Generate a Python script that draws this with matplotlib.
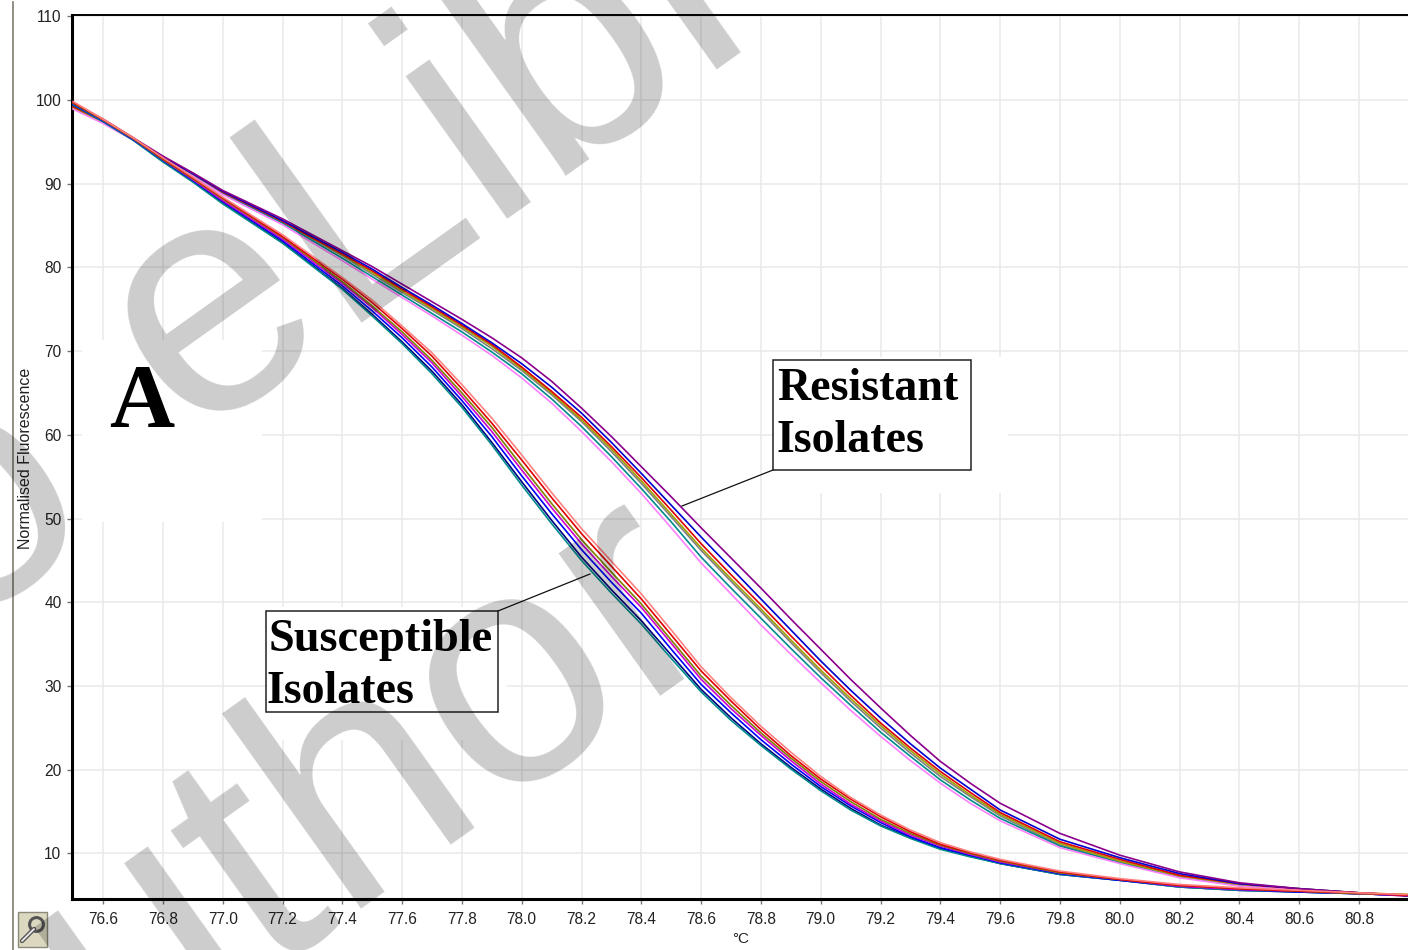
import matplotlib
matplotlib.use('Agg')
import matplotlib.pyplot as plt
from matplotlib.patches import Rectangle
from matplotlib.lines import Line2D

W, H = 1408, 950

temps = [76.5, 76.6, 76.7, 76.8, 76.9, 77.0, 77.2,
         77.4, 77.5, 77.6, 77.7, 77.8, 77.9, 78.0, 78.1, 78.2, 78.3, 78.4, 78.5, 78.6, 78.7, 78.8, 78.9,
         79.0, 79.1, 79.2, 79.3, 79.4, 79.5, 79.6,
         79.8, 80.0, 80.2, 80.4, 80.6, 80.8, 80.96]

# resistant isolates
res_purple = [99.6, 97.7, 95.5, 93.3, 91.3, 89.2, 85.8,
              82.0, 80.1, 78.0, 75.9, 73.8, 71.6, 69.2, 66.4, 63.2, 59.8, 56.2, 52.6, 48.9, 45.3, 41.7, 38.0,
              34.4, 30.8, 27.4, 24.1, 21.0, 18.4, 16.0,
              12.4, 9.8, 7.8, 6.5, 5.8, 5.3, 4.9]
res_blue = [99.4, 97.6, 95.4, 93.2, 91.2, 89.1, 85.6,
            81.8, 79.8, 77.6, 75.5, 73.3, 71.0, 68.5, 65.7, 62.6, 59.1, 55.4, 51.6, 47.8, 44.1, 40.4, 36.7,
            33.0, 29.5, 26.2, 23.1, 20.2, 17.7, 15.2,
            11.7, 9.5, 7.6, 6.4, 5.8, 5.3, 5.0]
res_red = [99.2, 97.5, 95.4, 93.2, 91.2, 89.0, 85.5,
           81.6, 79.6, 77.4, 75.3, 73.1, 70.8, 68.1, 65.2, 62.1, 58.6, 54.9, 51.0, 47.0, 43.3, 39.7, 36.0,
           32.4, 28.9, 25.6, 22.6, 19.8, 17.3, 14.9,
           11.4, 9.3, 7.4, 6.4, 5.7, 5.3, 5.0]
res_olive = [99.0, 97.4, 95.4, 93.2, 91.2, 89.1, 85.5,
             81.5, 79.4, 77.2, 75.1, 72.9, 70.6, 67.9, 65.0, 61.8, 58.3, 54.5, 50.5, 46.5, 42.8, 39.2, 35.5,
             31.9, 28.5, 25.3, 22.3, 19.5, 17.0, 14.7,
             11.2, 9.1, 7.3, 6.3, 5.8, 5.3, 5.1]
res_gray = [99.1, 97.3, 95.3, 93.1, 91.0, 88.9, 85.4,
            81.4, 79.2, 77.0, 74.9, 72.7, 70.3, 67.7, 64.8, 61.6, 58.0, 54.2, 50.2, 46.2, 42.5, 38.9, 35.2,
            31.6, 28.2, 25.0, 22.0, 19.2, 16.8, 14.5,
            11.0, 9.0, 7.2, 6.3, 5.7, 5.2, 5.0]
res_teal = [99.3, 97.4, 95.3, 93.1, 91.0, 88.8, 85.3,
            81.1, 78.9, 76.7, 74.5, 72.3, 69.9, 67.3, 64.3, 61.0, 57.4, 53.6, 49.6, 45.4, 41.7, 38.1, 34.5,
            31.0, 27.7, 24.5, 21.6, 18.8, 16.4, 14.2,
            10.9, 8.9, 7.2, 6.2, 5.6, 5.2, 5.0]
res_pink = [98.9, 97.2, 95.2, 93.0, 90.9, 88.7, 85.1,
            80.8, 78.6, 76.4, 74.2, 71.9, 69.5, 66.8, 63.8, 60.4, 56.8, 53.0, 48.9, 44.7, 41.0, 37.3, 33.8,
            30.4, 27.1, 24.0, 21.1, 18.4, 16.0, 13.9,
            10.7, 8.8, 7.1, 6.1, 5.6, 5.2, 5.0]

# susceptible isolates
sus_salmon = [99.8, 97.7, 95.5, 93.1, 90.8, 88.4, 83.9,
              78.8, 76.1, 73.0, 69.8, 66.0, 62.0, 57.6, 53.1, 48.8, 44.9, 41.0, 36.7, 32.3, 28.6, 25.2, 22.1,
              19.2, 16.7, 14.6, 12.8, 11.3, 10.2, 9.3,
              7.9, 7.0, 6.3, 5.9, 5.6, 5.3, 5.1]
sus_red = [99.7, 97.7, 95.5, 93.0, 90.7, 88.3, 83.7,
           78.6, 75.8, 72.7, 69.4, 65.5, 61.4, 57.0, 52.5, 48.2, 44.3, 40.4, 36.1, 31.8, 28.2, 24.8, 21.7,
           18.9, 16.5, 14.4, 12.6, 11.1, 10.1, 9.2,
           7.8, 6.9, 6.2, 5.8, 5.5, 5.3, 5.0]
sus_olive = [99.6, 97.6, 95.4, 92.9, 90.6, 88.2, 83.6,
             78.3, 75.4, 72.3, 68.9, 65.0, 60.9, 56.3, 51.8, 47.5, 43.6, 39.8, 35.5, 31.2, 27.7, 24.4, 21.4,
             18.6, 16.2, 14.1, 12.4, 11.0, 10.0, 9.1,
             7.7, 6.9, 6.2, 5.8, 5.5, 5.2, 5.1]
sus_magenta = [99.7, 97.6, 95.4, 92.9, 90.5, 88.0, 83.4,
               78.1, 75.2, 72.0, 68.6, 64.6, 60.4, 55.8, 51.3, 47.0, 43.1, 39.4, 35.1, 30.8, 27.3, 24.1, 21.1,
               18.3, 15.9, 13.9, 12.2, 10.9, 9.9, 9.0,
               7.7, 6.9, 6.1, 5.7, 5.5, 5.2, 5.0]
sus_blue = [99.5, 97.5, 95.3, 92.8, 90.4, 87.9, 83.2,
            77.8, 74.8, 71.6, 68.1, 64.1, 59.8, 55.1, 50.6, 46.3, 42.4, 38.7, 34.4, 30.2, 26.8, 23.6, 20.7,
            18.0, 15.7, 13.7, 12.0, 10.7, 9.8, 8.9,
            7.6, 6.8, 6.1, 5.7, 5.4, 5.2, 5.0]
sus_navy = [99.4, 97.5, 95.3, 92.7, 90.3, 87.7, 83.0,
            77.5, 74.4, 71.1, 67.6, 63.6, 59.1, 54.4, 49.8, 45.4, 41.5, 37.8, 33.7, 29.6, 26.2, 23.1, 20.3,
            17.7, 15.4, 13.4, 11.9, 10.6, 9.7, 8.8,
            7.5, 6.8, 6.0, 5.6, 5.4, 5.2, 5.0]
sus_teal = [99.4, 97.4, 95.2, 92.6, 90.2, 87.6, 82.9,
            77.4, 74.2, 70.9, 67.3, 63.3, 58.8, 54.0, 49.4, 45.0, 41.1, 37.4, 33.3, 29.3, 25.9, 22.9, 20.1,
            17.5, 15.2, 13.3, 11.8, 10.5, 9.6, 8.8,
            7.5, 6.8, 6.0, 5.6, 5.4, 5.2, 5.0]

xticks = [76.6, 76.8, 77.0, 77.2, 77.4, 77.6, 77.8, 78.0, 78.2, 78.4, 78.6, 78.8, 79.0,
          79.2, 79.4, 79.6, 79.8, 80.0, 80.2, 80.4, 80.6, 80.8]
yticks = [10, 20, 30, 40, 50, 60, 70, 80, 90, 100, 110]


def fx(px):
    return px / W


def fy(py):
    return 1 - py / H


def fig_line(xs, ys, **kw):
    fig.add_artist(Line2D([fx(v) for v in xs], [fy(v) for v in ys], transform=fig.transFigure, **kw))


plt.rcParams['font.family'] = ['Liberation Sans', 'DejaVu Sans']
fig = plt.figure(figsize=(W / 100, H / 100), dpi=100)
ax = fig.add_axes([fx(72), fy(899), fx(W) - fx(72), fy(15) - fy(899)])
ax.set_xlim(76.496, 80.964)
ax.set_ylim(4.565, 110.15)
ax.set_xticks(xticks)
ax.set_xticklabels(['%.1f' % t for t in xticks])
ax.set_yticks(yticks)
ax.grid(True, color='#e9e9e9', linewidth=1.1, zorder=0)
ax.set_axisbelow(True)
ax.tick_params(length=3.6, width=1, color='#777777', labelsize=11.2, labelcolor='#222222')
ax.tick_params(axis='x', pad=6)
ax.tick_params(axis='y', pad=4)
ax.spines['right'].set_visible(False)
ax.spines['left'].set_linewidth(2.2)
ax.spines['bottom'].set_linewidth(2.2)
ax.spines['top'].set_linewidth(1.4)

# white blocks pasted behind the labels hide the grid
for x0, y0, x1, y1 in [(82, 340, 262, 522), (773, 357, 1008, 493), (266, 607, 507, 740)]:
    ax.add_patch(Rectangle((fx(x0), fy(y1)), fx(x1 - x0), fy(y0) - fy(y1), transform=fig.transFigure,
                           facecolor='white', edgecolor='none', zorder=1))

curves = [(res_gray, '#808080'), (res_teal, '#008b8b'), (res_olive, '#a0a000'), (res_red, '#e00000'),
          (res_blue, '#0000d0'), (res_pink, '#ff80ff'), (res_purple, '#8b008b'),
          (sus_navy, '#000080'), (sus_teal, '#008b8b'), (sus_blue, '#0000ff'), (sus_magenta, '#d000d0'),
          (sus_olive, '#808000'), (sus_red, '#e00000'), (sus_salmon, '#ff8080')]
for vals, col in curves:
    ax.plot(temps, vals, color=col, linewidth=1.2, zorder=3)

fig.text(fx(741), fy(939), '°C', fontsize=11, color='#222222', ha='center', va='center')
fig.text(fx(26), fy(458), 'Normalised Fluorescence', rotation=90, fontsize=11.5, color='#222222',
         ha='center', va='center')

# labels
fig.text(fx(142), fy(427), 'A', family='Liberation Serif', weight='bold', fontsize=65, color='black',
         ha='center', va='baseline', zorder=20)
for x0, y0, x1, y1 in [(773, 360, 971, 470), (266, 611, 498, 712)]:
    fig.add_artist(Rectangle((fx(x0), fy(y1)), fx(x1 - x0), fy(y0) - fy(y1), transform=fig.transFigure,
                             facecolor='none', edgecolor='#222222', linewidth=1.1, zorder=20))
for txt, x0, y0, size in [('Resistant', 777, 400, 33), ('Isolates', 776, 452, 33),
                          ('Susceptible', 269, 651, 33.4), ('Isolates', 267, 703, 33)]:
    fig.text(fx(x0), fy(y0), txt, family='Liberation Serif', weight='bold', fontsize=size, color='black',
             ha='left', va='baseline', zorder=20)
fig_line((773, 682), (470, 506), color='#111111', linewidth=0.9, zorder=20)
fig_line((498, 590), (611, 574), color='#111111', linewidth=0.9, zorder=20)

# window bits around the plot
fig_line((13, 13), (2, 950), color='#807c6e', linewidth=1.2, zorder=5)
fig.add_artist(Rectangle((fx(18), fy(947)), fx(29), fy(912) - fy(947), transform=fig.transFigure,
                         facecolor='#dcd8c0', edgecolor='#8a8878', linewidth=1.0, zorder=5))
fig_line((22, 34), (941, 929), color='#555555', linewidth=3.2, solid_capstyle='round', zorder=6)
fig_line((22, 34), (941, 929), color='#f4f4f4', linewidth=1.2, solid_capstyle='round', zorder=7)
fig_line((36,), (924,), marker='o', markersize=10, markerfacecolor='none', markeredgecolor='#555555',
         markeredgewidth=2.2, zorder=6)

# watermark over everything
for txt, x0, y0 in [('o', -49, 630), ('eLibrary', 188, 437), ('Author', -60, 1210)]:
    fig.text(fx(x0), fy(y0), txt, fontsize=238, color='black', alpha=0.2, rotation=35.5,
             rotation_mode='anchor', ha='left', va='baseline', zorder=100)

fig.savefig('out.png', dpi=100)
